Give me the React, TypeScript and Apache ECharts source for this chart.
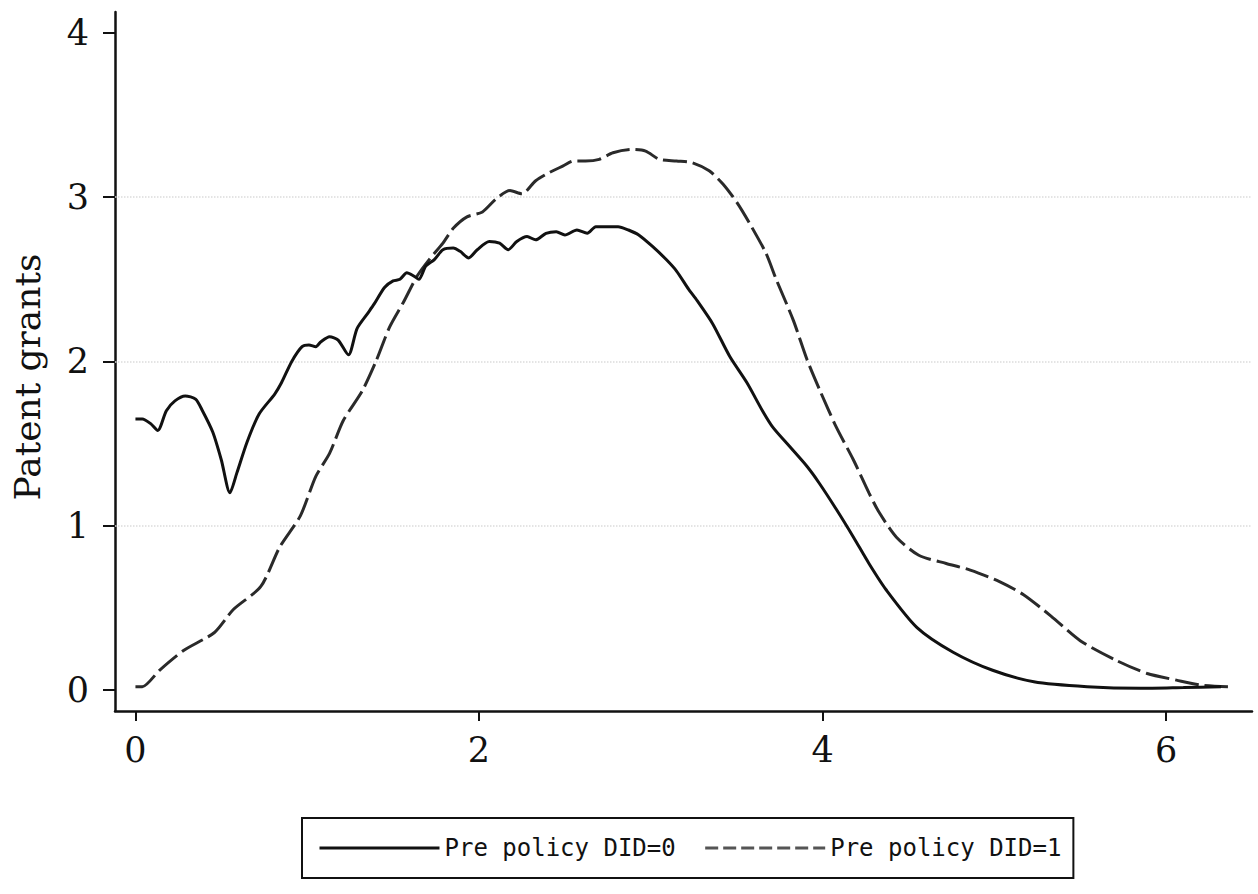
import React, { useEffect, useRef } from "react";
import * as echarts from "echarts";

const seriesNames = ["Pre policy DID=0", "Pre policy DID=1"];

const did0X = [0, 0.04, 0.09, 0.13, 0.18, 0.23, 0.29, 0.35, 0.39, 0.45, 0.5, 0.55, 0.59, 0.65, 0.72, 0.81, 0.85, 0.91, 0.97, 1.01, 1.05, 1.08, 1.13, 1.18, 1.24, 1.29, 1.35, 1.39, 1.45, 1.5, 1.54, 1.58, 1.62, 1.65, 1.69, 1.74, 1.79, 1.85, 1.89, 1.94, 1.99, 2.06, 2.12, 2.17, 2.22, 2.28, 2.33, 2.39, 2.45, 2.5, 2.57, 2.63, 2.68, 2.74, 2.81, 2.87, 2.93, 3.01, 3.09, 3.15, 3.22, 3.27, 3.36, 3.46, 3.56, 3.65, 3.71, 3.81, 3.91, 3.98, 4.08, 4.18, 4.27, 4.37, 4.55, 4.76, 4.99, 5.23, 5.54, 5.85, 6.1, 6.32];
const did0Y = [1.65, 1.65, 1.62, 1.58, 1.7, 1.76, 1.79, 1.77, 1.7, 1.57, 1.4, 1.2, 1.32, 1.51, 1.68, 1.8, 1.87, 2.0, 2.09, 2.1, 2.09, 2.12, 2.15, 2.13, 2.04, 2.2, 2.29, 2.35, 2.45, 2.49, 2.5, 2.54, 2.52, 2.5, 2.58, 2.62, 2.68, 2.69, 2.67, 2.63, 2.68, 2.73, 2.72, 2.68, 2.73, 2.76, 2.74, 2.78, 2.79, 2.77, 2.8, 2.78, 2.82, 2.82, 2.82, 2.8, 2.77, 2.7, 2.62, 2.55, 2.44, 2.37, 2.23, 2.03, 1.87, 1.7, 1.6, 1.48, 1.36, 1.26, 1.1, 0.93, 0.77, 0.61, 0.38, 0.23, 0.12, 0.05, 0.02, 0.01, 0.015, 0.02];

const did1X = [0, 0.04, 0.14, 0.28, 0.46, 0.57, 0.73, 0.84, 0.96, 1.05, 1.13, 1.21, 1.32, 1.4, 1.48, 1.56, 1.64, 1.71, 1.79, 1.85, 1.93, 2.02, 2.1, 2.18, 2.25, 2.33, 2.41, 2.49, 2.55, 2.62, 2.7, 2.78, 2.89, 2.97, 3.05, 3.15, 3.24, 3.34, 3.42, 3.5, 3.57, 3.67, 3.73, 3.83, 3.91, 3.99, 4.08, 4.18, 4.27, 4.33, 4.43, 4.56, 4.72, 4.86, 5.03, 5.17, 5.33, 5.5, 5.71, 5.89, 6.06, 6.2, 6.36];
const did1Y = [0.02, 0.02, 0.12, 0.24, 0.35, 0.49, 0.63, 0.87, 1.06, 1.3, 1.44, 1.64, 1.82, 2.0, 2.21, 2.36, 2.52, 2.62, 2.72, 2.81, 2.88, 2.91, 2.99, 3.04, 3.02, 3.1, 3.15, 3.19, 3.22, 3.22, 3.23, 3.27, 3.29, 3.28, 3.23, 3.22, 3.21, 3.16, 3.08, 2.97, 2.85, 2.66, 2.5, 2.25, 2.01, 1.81, 1.6, 1.4, 1.2, 1.08, 0.93, 0.82, 0.77, 0.73, 0.66, 0.58, 0.45, 0.3, 0.18, 0.1, 0.06, 0.03, 0.02];

const xTicks = [0, 2, 4, 6];
const yTicks = [0, 1, 2, 3, 4];
const yGridLines = [1, 2, 3];

const yTitle = "Patent grants";

export default function App() {
  const ref = useRef<HTMLDivElement>(null);

  useEffect(() => {
    if (!ref.current) return;
    const chart = echarts.init(ref.current, undefined, { renderer: "svg" });
    const serif = "DejaVu Serif";
    const option: any = {
      animation: false,
      backgroundColor: "#ffffff",
      grid: { left: 115, top: 12, width: 1137, height: 699 },
      xAxis: {
        type: "value",
        min: -0.119,
        max: 6.5,
        axisLine: { show: true, onZero: false, lineStyle: { color: "#111", width: 2.5 } },
        axisTick: { show: true, customValues: xTicks, length: 10, lineStyle: { color: "#111", width: 2 } },
        axisLabel: {
          customValues: xTicks,
          margin: 21,
          fontFamily: serif,
          fontSize: 35,
          color: "#111",
        },
        splitLine: { show: false },
      },
      yAxis: {
        type: "value",
        min: -0.128,
        max: 4.127,
        name: yTitle,
        nameLocation: "middle",
        nameRotate: 90,
        nameGap: 70,
        nameTextStyle: {
          fontFamily: serif,
          fontSize: 36,
          color: "#111",
          padding: [0, 31, 0, 0],
        },
        axisLine: { show: true, onZero: false, lineStyle: { color: "#111", width: 2.5 } },
        axisTick: { show: true, customValues: yTicks, length: 12, lineStyle: { color: "#111", width: 2 } },
        axisLabel: {
          customValues: yTicks,
          margin: 26,
          fontFamily: serif,
          fontSize: 35,
          color: "#111",
        },
        splitLine: { show: false },
      },
      legend: {
        left: 302,
        top: 818,
        orient: "horizontal",
        itemWidth: 120,
        itemHeight: 14,
        itemGap: 28,
        padding: [18, 12, 18, 16],
        borderColor: "#111",
        borderWidth: 2,
        itemStyle: { opacity: 0 },
        textStyle: { fontFamily: "DejaVu Sans Mono", fontSize: 24, color: "#111" },
        data: [
          { name: seriesNames[0], lineStyle: { color: "#111", width: 3, type: "solid" } },
          { name: seriesNames[1], lineStyle: { color: "#555", width: 3, type: [13, 5] } },
        ],
      },
      series: [
        {
          name: seriesNames[0],
          type: "line",
          data: did0X.map((x, i) => [x, did0Y[i]]),
          showSymbol: false,
          symbol: "none",
          smooth: 0.25,
          lineStyle: { color: "#111", width: 3 },
          itemStyle: { color: "#111" },
          z: 3,
          markLine: {
            silent: true,
            symbol: ["none", "none"],
            label: { show: false },
            lineStyle: { color: "#dcdcdc", type: "dotted", width: 1.5 },
            data: yGridLines.map((v) => ({ yAxis: v })),
            z: 1,
          },
        },
        {
          name: seriesNames[1],
          type: "line",
          data: did1X.map((x, i) => [x, did1Y[i]]),
          showSymbol: false,
          symbol: "none",
          smooth: 0.25,
          lineStyle: { color: "#2a2a2a", width: 3, type: [24, 6] },
          itemStyle: { color: "#2a2a2a" },
          z: 2,
        },
      ],
    };
    chart.setOption(option);
    return () => chart.dispose();
  }, []);

  return (
    <div
      ref={ref}
      style={{ position: "fixed", left: 0, top: 0, width: 1258, height: 894, background: "#fff" }}
    />
  );
}
